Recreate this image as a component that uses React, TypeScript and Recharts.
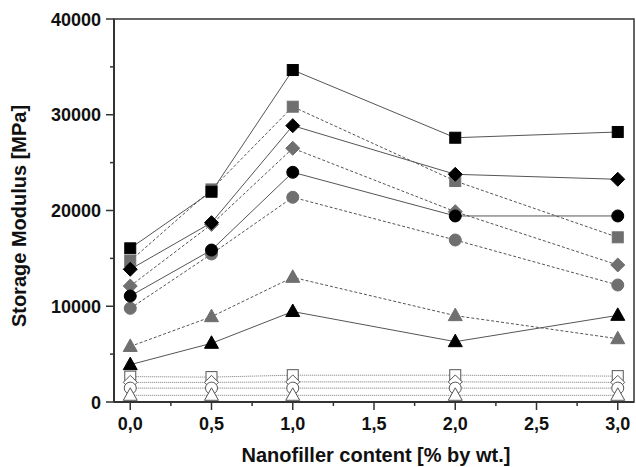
import { LineChart, Line, XAxis, YAxis, ReferenceArea } from "recharts";

const xValues = [0, 0.5, 1.0, 2.0, 3.0];
const xTicks = [0, 0.25, 0.5, 0.75, 1, 1.25, 1.5, 1.75, 2, 2.25, 2.5, 2.75, 3];
const yTicks = [0, 5000, 10000, 15000, 20000, 25000, 30000, 35000, 40000];

// filled black markers, solid lines
const blackSquare = [16050, 21960, 34670, 27600, 28200];
const blackDiamond = [13860, 18730, 28860, 23780, 23260];
const blackCircle = [11070, 15870, 23990, 19430, 19430];
const blackTriangle = [3900, 6130, 9450, 6300, 9050];

// filled gray markers, dashed lines
const graySquare = [14730, 22200, 30840, 23080, 17200];
const grayDiamond = [12110, 18550, 26500, 19880, 14310];
const grayCircle = [9780, 15460, 21380, 16920, 12220];
const grayTriangle = [5800, 8910, 13020, 9020, 6610];

// open markers, dotted lines
const openSquare = [2650, 2600, 2800, 2800, 2700];
const openDiamond = [2050, 2050, 2100, 2100, 2050];
const openCircle = [1450, 1450, 1450, 1450, 1450];
const openTriangle = [700, 700, 700, 700, 700];

const data = xValues.map((x, i) => ({
  x,
  bs: blackSquare[i],
  bd: blackDiamond[i],
  bc: blackCircle[i],
  bt: blackTriangle[i],
  gs: graySquare[i],
  gd: grayDiamond[i],
  gc: grayCircle[i],
  gt: grayTriangle[i],
  os: openSquare[i],
  od: openDiamond[i],
  oc: openCircle[i],
  ot: openTriangle[i],
}));

const FONT = "'Liberation Sans', Arial, sans-serif";
const GRAY = "#6f6f6f";

type Shape = "square" | "diamond" | "circle" | "triangle";

function makeDot(shape: Shape, fill: string, stroke: string) {
  return (props: any) => {
    const { cx, cy, index } = props;
    const k = `${shape}-${fill}-${index}`;
    if (cx == null || cy == null) return <g key={k} />;
    if (shape === "square")
      return <rect key={k} x={cx - 5.5} y={cy - 5.5} width={11} height={11} fill={fill} stroke={stroke} strokeWidth={1} />;
    if (shape === "circle")
      return <circle key={k} cx={cx} cy={cy} r={6} fill={fill} stroke={stroke} strokeWidth={1} />;
    if (shape === "diamond")
      return (
        <polygon
          key={k}
          points={`${cx},${cy - 7} ${cx + 7},${cy} ${cx},${cy + 7} ${cx - 7},${cy}`}
          fill={fill}
          stroke={stroke}
          strokeWidth={1}
        />
      );
    return (
      <polygon
        key={k}
        points={`${cx},${cy - 7.5} ${cx + 7},${cy + 5} ${cx - 7},${cy + 5}`}
        fill={fill}
        stroke={stroke}
        strokeWidth={1}
      />
    );
  };
}

const renderXTick = (props: any) => {
  const { x, y, payload } = props;
  const v = payload.value as number;
  const major = Math.abs(v * 2 - Math.round(v * 2)) < 1e-6;
  return (
    <g key={`xt-${v}`}>
      <line x1={x} x2={x} y1={y} y2={y + (major ? 8 : 4)} stroke="#333" strokeWidth={1.5} />
      {major && (
        <text x={x} y={y + 28} textAnchor="middle" fontFamily={FONT} fontWeight="bold" fontSize={18} fill="#111">
          {v.toFixed(1).replace(".", ",")}
        </text>
      )}
    </g>
  );
};

const renderYTick = (props: any) => {
  const { x, y, payload } = props;
  const v = payload.value as number;
  const major = v % 10000 === 0;
  return (
    <g key={`yt-${v}`}>
      <line x1={x - (major ? 8 : 4)} x2={x} y1={y} y2={y} stroke="#333" strokeWidth={1.5} />
      {major && (
        <text x={x - 13} y={y + 6.5} textAnchor="end" fontFamily={FONT} fontWeight="bold" fontSize={18} fill="#111">
          {v}
        </text>
      )}
    </g>
  );
};

export default function App() {
  const solid = { stroke: "#555", strokeWidth: 1, isAnimationActive: false, activeDot: false as const };
  const dashed = { ...solid, strokeDasharray: "3 2" };
  const dotted = { stroke: "#777", strokeWidth: 1, strokeDasharray: "1 1", isAnimationActive: false, activeDot: false as const };

  return (
    <div style={{ position: "absolute", left: 0, top: 0, width: 636, height: 467, background: "#fff" }}>
      <LineChart width={636} height={467} data={data} margin={{ top: 19, right: 2, left: 0, bottom: 0 }}>
        <XAxis
          dataKey="x"
          type="number"
          domain={[-0.1, 3.1]}
          ticks={xTicks}
          height={65}
          tickSize={0}
          tickMargin={0}
          tickLine={false}
          interval={0}
          tick={renderXTick}
          axisLine={{ stroke: "#333", strokeWidth: 2 }}
        />
        <YAxis
          type="number"
          domain={[0, 40000]}
          ticks={yTicks}
          width={114}
          tickSize={0}
          tickMargin={0}
          tickLine={false}
          interval={0}
          tick={renderYTick}
          axisLine={{ stroke: "#333", strokeWidth: 2 }}
        />
        <ReferenceArea x1={-0.1} x2={3.1} y1={0} y2={40000} fill="none" stroke="#333" strokeWidth={1.5} />

        <Line dataKey="gs" {...dashed} dot={makeDot("square", GRAY, GRAY)} />
        <Line dataKey="gd" {...dashed} dot={makeDot("diamond", GRAY, GRAY)} />
        <Line dataKey="gc" {...dashed} dot={makeDot("circle", GRAY, GRAY)} />
        <Line dataKey="gt" {...dashed} dot={makeDot("triangle", GRAY, GRAY)} />

        <Line dataKey="bs" {...solid} dot={makeDot("square", "#000", "#000")} />
        <Line dataKey="bd" {...solid} dot={makeDot("diamond", "#000", "#000")} />
        <Line dataKey="bc" {...solid} dot={makeDot("circle", "#000", "#000")} />
        <Line dataKey="bt" {...solid} dot={makeDot("triangle", "#000", "#000")} />

        <Line dataKey="os" {...dotted} dot={makeDot("square", "#fff", "#555")} />
        <Line dataKey="od" {...dotted} dot={makeDot("diamond", "#fff", "#555")} />
        <Line dataKey="oc" {...dotted} dot={makeDot("circle", "#fff", "#555")} />
        <Line dataKey="ot" {...dotted} dot={makeDot("triangle", "#fff", "#555")} />
      </LineChart>
      <div
        style={{
          position: "absolute",
          left: 19,
          top: 216,
          transform: "translate(-50%, -50%) rotate(-90deg)",
          whiteSpace: "nowrap",
          fontFamily: FONT,
          fontWeight: "bold",
          fontSize: 20,
          color: "#111",
        }}
      >
        Storage Modulus [MPa]
      </div>
      <div
        style={{
          position: "absolute",
          left: 376,
          top: 455,
          transform: "translate(-50%, -50%)",
          whiteSpace: "nowrap",
          fontFamily: FONT,
          fontWeight: "bold",
          fontSize: 20,
          color: "#111",
        }}
      >
        Nanofiller content [% by wt.]
      </div>
    </div>
  );
}
